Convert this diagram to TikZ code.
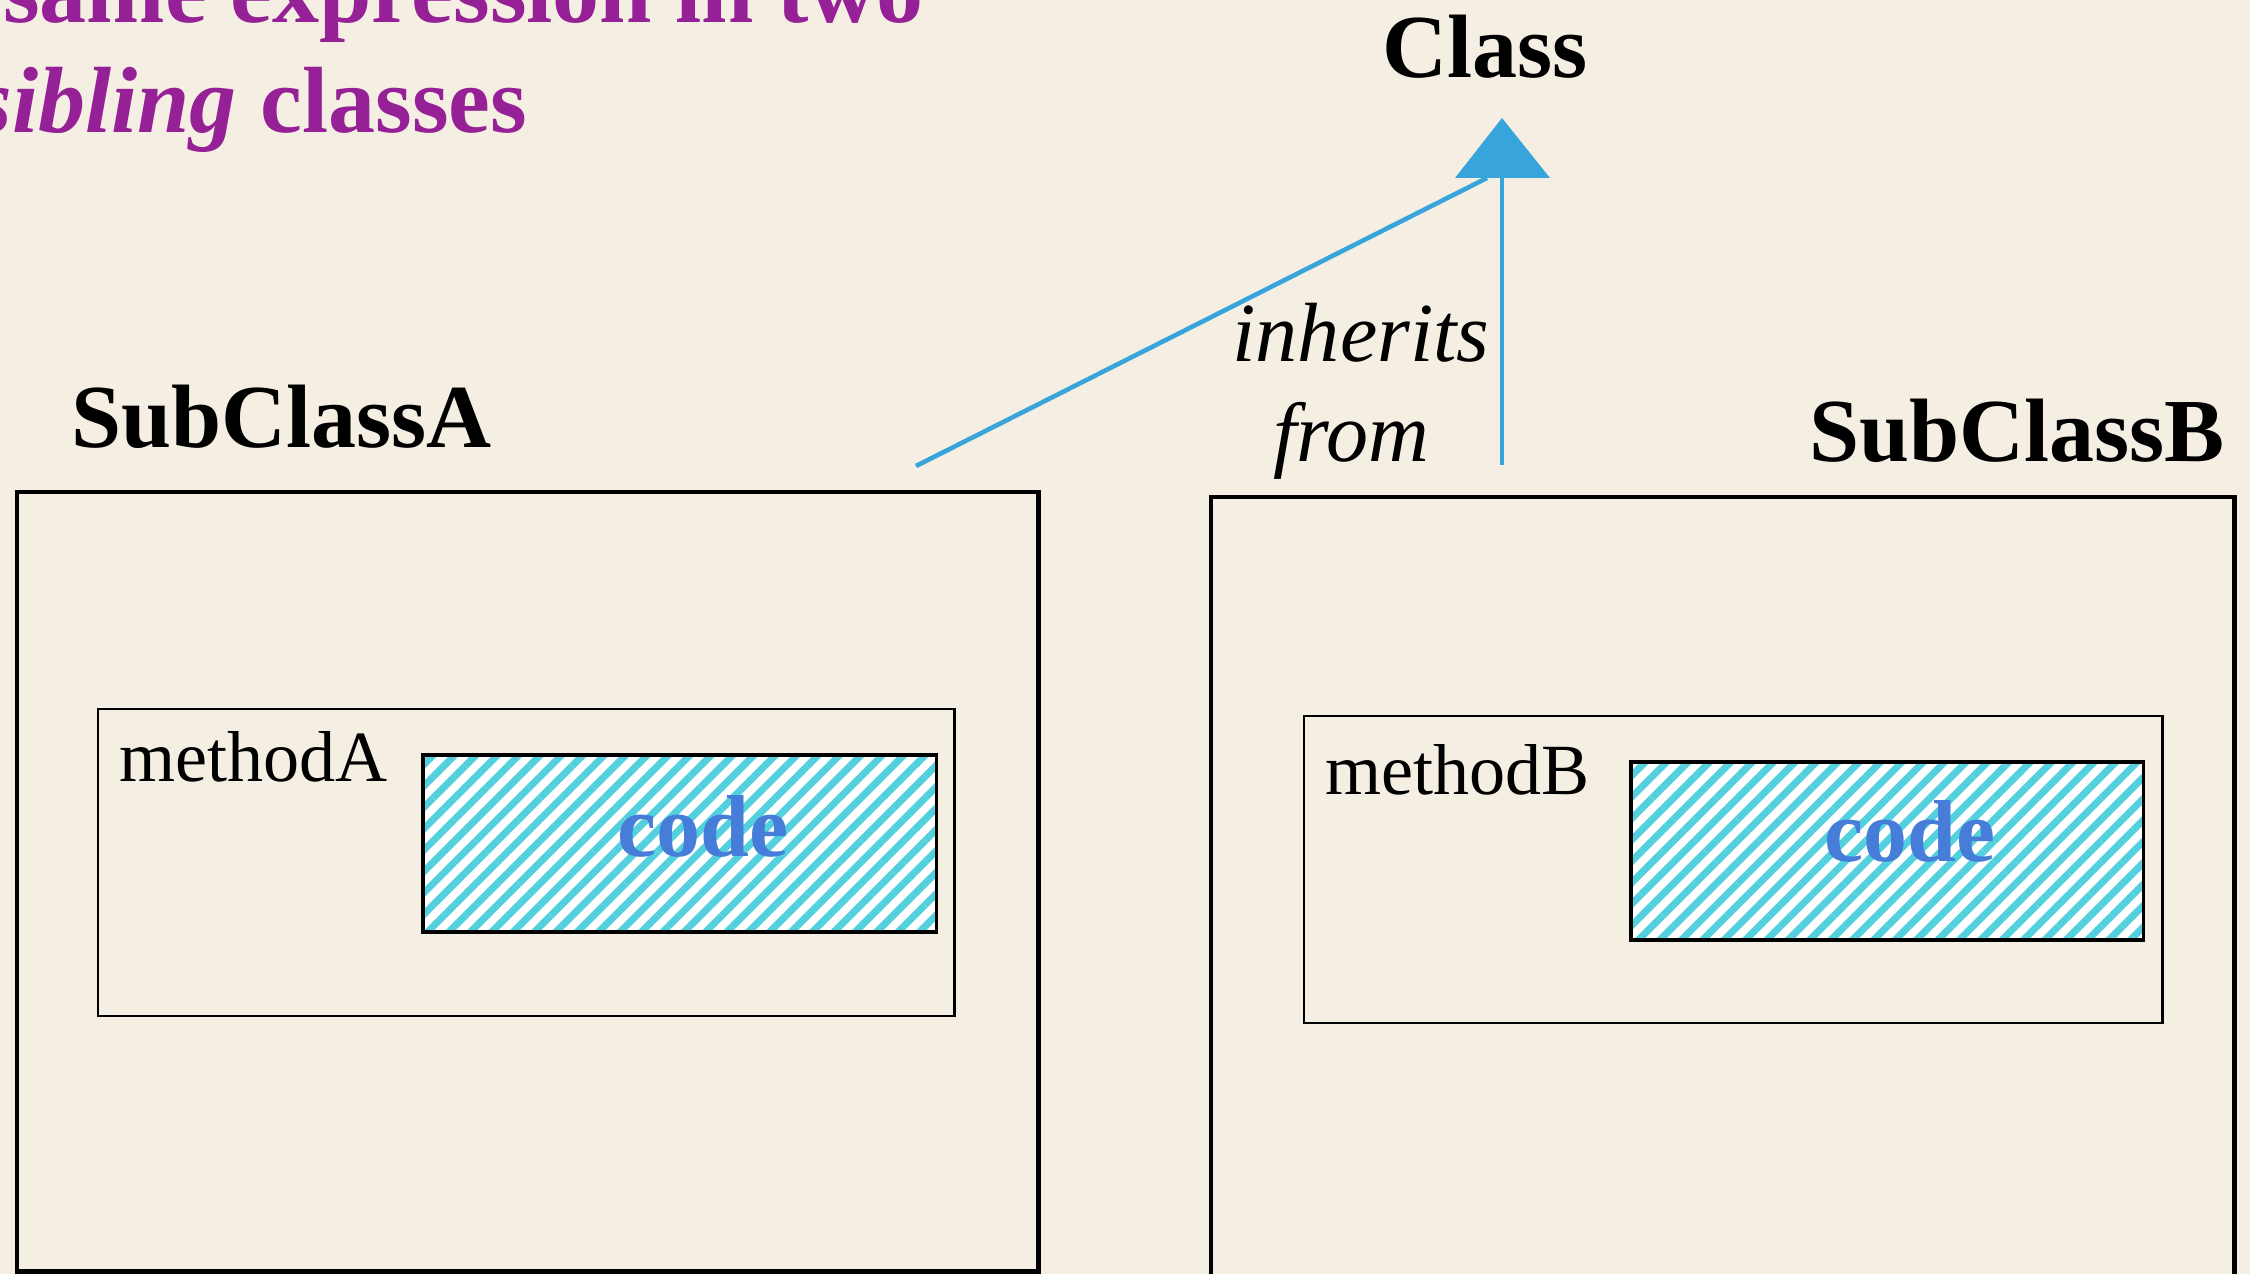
\documentclass[tikz,border=0pt]{standalone}
\usepackage{fontspec}
\setmainfont{Liberation Serif}
\usetikzlibrary{patterns.meta}

\definecolor{paper}{RGB}{245,239,227}
\definecolor{titlepurple}{RGB}{150,32,150}
\definecolor{inheritblue}{RGB}{55,165,220}
\definecolor{stripecyan}{RGB}{82,208,222}
\definecolor{codeblue}{RGB}{70,125,216}

\begin{document}
\begin{tikzpicture}[
  x=0.01cm, y=-0.01cm,
  txt/.style={inner sep=0pt, outer sep=0pt},
  titletext/.style={txt, text=titlepurple, font=\fontsize{26.75pt}{32pt}\selectfont\bfseries},
  classlabel/.style={txt, font=\fontsize{25.6pt}{30pt}\selectfont\bfseries},
  inhlabel/.style={txt, font=\fontsize{23.9pt}{28pt}\selectfont\itshape},
  methodlabel/.style={txt, font=\fontsize{20.5pt}{24pt}\selectfont},
  codelabel/.style={txt, text=codeblue, font=\fontsize{25pt}{30pt}\selectfont\bfseries},
  boxshape/.style={rectangle, inner sep=0pt, outer sep=0pt, anchor=north west},
  outerbox/.style={boxshape, draw=black, line width=1.3pt},
  methodbox/.style={boxshape, draw=black, line width=0.7pt},
  codebox/.style={boxshape, draw=black, line width=1pt,
    preaction={fill=white},
    pattern={Lines[angle=45, distance=4.3pt, line width=2pt]},
    pattern color=stripecyan},
  inherit/.style={draw=inheritblue, line width=1.3pt}
]
\useasboundingbox (0,0) rectangle (2250,1274);
\clip (0,0) rectangle (2250,1274);
\fill[paper] (0,0) rectangle (2250,1274);

% heading, running off the left and top edges
\node[titletext, anchor=base east] (head1) at (924,23) {same expression in two};
\node[titletext, anchor=base east] (head2) at (527,133) {\textit{sibling} classes};

% superclass and the inheritance arrows
\node[classlabel, anchor=base west] (class) at (1382,78) {Class};
\coordinate (apex) at (1502,118);
\coordinate (baseL) at (1455,178);
\coordinate (baseR) at (1550,178);
\coordinate (joinA) at (1487,178);
\coordinate (joinB) at (1502,178);
\coordinate (fromA) at (916,466);
\coordinate (fromB) at (1502,465);
\draw[inherit] (fromA) -- (joinA);
\draw[inherit] (fromB) -- (joinB);
\fill[inheritblue] (baseL) -- (apex) -- (baseR) -- cycle;
\node[inhlabel, anchor=base] (inh1) at (1361,362) {inherits};
\node[inhlabel, anchor=base] (inh2) at (1351,462) {from};

% SubClassA
\node[classlabel, anchor=base west] (labA) at (71,448) {SubClassA};
\node[outerbox, minimum width=10.21cm, minimum height=7.79cm] (subA) at (17,492) {};
\node[methodbox, minimum width=8.56cm, minimum height=3.07cm] (methA) at (98,709) {};
\node[methodlabel, anchor=base west] (mnameA) at (119,782) {methodA};
\node[codebox, minimum width=5.13cm, minimum height=1.77cm] (codeA) at (423,755) {};
\node[codelabel, anchor=base] (ctextA) at (703,857) {code};

% SubClassB
\node[classlabel, anchor=base east] (labB) at (2225,462) {SubClassB};
\node[outerbox, minimum width=10.23cm, minimum height=8.1cm] (subB) at (1211,497) {};
\node[methodbox, minimum width=8.58cm, minimum height=3.07cm] (methB) at (1304,716) {};
\node[methodlabel, anchor=base west] (mnameB) at (1325,795) {methodB};
\node[codebox, minimum width=5.12cm, minimum height=1.78cm] (codeB) at (1631,762) {};
\node[codelabel, anchor=base] (ctextB) at (1910,862) {code};
\end{tikzpicture}
\end{document}
